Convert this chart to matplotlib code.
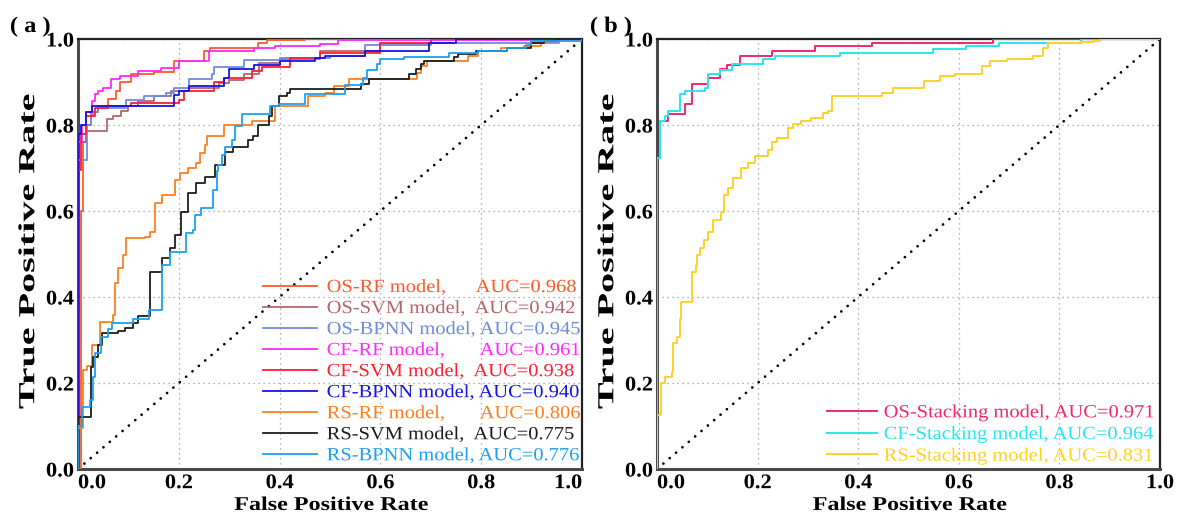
import matplotlib
matplotlib.use('Agg')
import matplotlib.pyplot as plt
from matplotlib.patheffects import AbstractPathEffect
from matplotlib.transforms import Affine2D

plt.rcParams['font.family'] = ['Liberation Serif', 'DejaVu Serif']

# ---------------- data (FPR where TPR jumps, TPR after jump) ----------------
os_rf_fpr = [0, 0.006, 0.01, 0.015, 0.025, 0.04, 0.06, 0.075, 0.083, 0.106, 0.15, 0.19, 0.25, 0.262, 0.357, 0.375, 0.45, 1]
os_rf_tpr = [0, 0.6, 0.76, 0.8, 0.83, 0.845, 0.86, 0.88, 0.9, 0.918, 0.923, 0.949, 0.972, 0.979, 0.99, 0.997, 1.0, 1.0]

os_svm_fpr = [0, 0, 0.015, 0.057, 0.07, 0.086, 0.1, 0.12, 0.15, 0.185, 0.22, 0.28, 0.3, 0.33, 0.36, 0.4, 0.48, 0.6, 0.7, 1]
os_svm_tpr = [0, 0.76, 0.785, 0.815, 0.82, 0.833, 0.845, 0.856, 0.868, 0.879, 0.885, 0.898, 0.905, 0.918, 0.945, 0.953, 0.972, 0.988, 1.0, 1.0]

os_bpnn_fpr = [0, 0, 0.017, 0.025, 0.03, 0.04, 0.096, 0.13, 0.175, 0.19, 0.22, 0.265, 0.27, 0.33, 0.4, 0.5, 0.57, 0.7, 0.955, 1]
os_bpnn_tpr = [0, 0.718, 0.8, 0.82, 0.83, 0.84, 0.859, 0.868, 0.875, 0.887, 0.906, 0.918, 0.936, 0.952, 0.956, 0.96, 0.985, 0.99, 1.0, 1.0]

cf_rf_fpr = [0, 0, 0.008, 0.015, 0.027, 0.033, 0.04, 0.05, 0.066, 0.083, 0.12, 0.165, 0.2, 0.26, 0.35, 0.39, 0.48, 0.515, 1]
cf_rf_tpr = [0, 0.76, 0.8, 0.83, 0.856, 0.871, 0.88, 0.887, 0.906, 0.913, 0.925, 0.933, 0.949, 0.972, 0.98, 0.984, 0.988, 0.997, 1.0]

cf_svm_fpr = [0, 0, 0.005, 0.015, 0.033, 0.06, 0.106, 0.2, 0.21, 0.27, 0.29, 0.345, 0.365, 0.42, 0.48, 0.6, 0.7, 1]
cf_svm_tpr = [0, 0.695, 0.78, 0.82, 0.84, 0.845, 0.852, 0.858, 0.88, 0.9, 0.91, 0.925, 0.935, 0.955, 0.968, 0.99, 1.0, 1.0]

cf_bpnn_fpr = [0, 0, 0.005, 0.015, 0.027, 0.19, 0.2, 0.22, 0.29, 0.3, 0.35, 0.4, 0.47, 0.49, 0.57, 0.696, 0.75, 1]
cf_bpnn_tpr = [0, 0.78, 0.8, 0.83, 0.845, 0.87, 0.88, 0.89, 0.91, 0.93, 0.94, 0.948, 0.955, 0.96, 0.972, 0.99, 1.0, 1.0]

rs_rf_fpr = [0, 0, 0.01, 0.017, 0.027, 0.043, 0.07, 0.073, 0.08, 0.089, 0.096, 0.133, 0.142, 0.152, 0.166,
             0.192, 0.202, 0.219, 0.235, 0.242, 0.252, 0.255, 0.29, 0.345, 0.39, 0.457, 0.49, 0.508, 0.537,
             0.673, 0.68, 0.693, 0.773, 0.793, 0.84, 0.885, 0.918, 0.93, 0.95, 1]
rs_rf_tpr = [0, 0.095, 0.23, 0.24, 0.289, 0.343, 0.358, 0.432, 0.467, 0.497, 0.537, 0.54, 0.552, 0.618, 0.637,
             0.672, 0.688, 0.699, 0.711, 0.734, 0.753, 0.775, 0.8, 0.81, 0.845, 0.867, 0.875, 0.89, 0.908,
             0.922, 0.937, 0.949, 0.96, 0.972, 0.978, 0.984, 0.99, 0.995, 1.0, 1.0]

rs_svm_fpr = [0, 0, 0.025, 0.03, 0.04, 0.047, 0.08, 0.094, 0.11, 0.12, 0.142, 0.166, 0.182, 0.192, 0.205,
              0.219, 0.235, 0.252, 0.272, 0.292, 0.308, 0.338, 0.348, 0.358, 0.378, 0.384, 0.398, 0.414,
              0.42, 0.561, 0.577, 0.657, 0.67, 0.68, 0.687, 0.746, 0.753, 0.79, 0.852, 0.898, 0.925, 0.95, 1]
rs_svm_tpr = [0, 0.12, 0.238, 0.261, 0.288, 0.316, 0.32, 0.328, 0.34, 0.355, 0.459, 0.49, 0.513, 0.544, 0.598,
              0.641, 0.664, 0.68, 0.707, 0.738, 0.75, 0.765, 0.775, 0.8, 0.82, 0.844, 0.868, 0.875,
              0.884, 0.895, 0.906, 0.918, 0.93, 0.941, 0.949, 0.957, 0.964, 0.972, 0.98, 0.991, 0.995, 1.0, 1.0]

rs_bpnn_fpr = [0, 0, 0.008, 0.024, 0.03, 0.034, 0.046, 0.059, 0.067, 0.11, 0.14, 0.166, 0.182, 0.215, 0.229,
               0.232, 0.245, 0.268, 0.275, 0.278, 0.285, 0.292, 0.305, 0.311, 0.325, 0.381, 0.398, 0.45,
               0.53, 0.566, 0.574, 0.593, 0.6, 0.647, 0.736, 0.793, 0.852, 0.888, 0.898, 1]
rs_bpnn_tpr = [0, 0.1, 0.145, 0.16, 0.215, 0.27, 0.308, 0.325, 0.34, 0.35, 0.37, 0.475, 0.505, 0.548, 0.556,
               0.591, 0.606, 0.649, 0.692, 0.707, 0.73, 0.75, 0.765, 0.797, 0.825, 0.844, 0.85, 0.871,
               0.892, 0.909, 0.929, 0.941, 0.953, 0.959, 0.968, 0.972, 0.98, 0.986, 0.995, 1.0]

os_st_fpr = [0, 0, 0.006, 0.0225, 0.0557, 0.07, 0.102, 0.125, 0.14, 0.165, 0.228, 0.314, 0.427, 0.668, 1]
os_st_tpr = [0, 0.723, 0.809, 0.825, 0.848, 0.895, 0.91, 0.93, 0.94, 0.96, 0.972, 0.984, 0.991, 1.0, 1.0]

cf_st_fpr = [0, 0, 0.006, 0.015, 0.0225, 0.0457, 0.0557, 0.0954, 0.102, 0.125, 0.149, 0.21, 0.235, 0.364, 0.549, 0.615, 0.68, 0.843, 1]
cf_st_tpr = [0, 0.723, 0.809, 0.82, 0.832, 0.871, 0.879, 0.887, 0.918, 0.929, 0.943, 0.954, 0.96, 0.968, 0.976, 0.984, 0.99, 1.0, 1.0]

rs_st_fpr = [0, 0, 0.006, 0.008, 0.016, 0.03, 0.032, 0.039, 0.046, 0.048, 0.069, 0.07, 0.077, 0.079, 0.085,
             0.094, 0.102, 0.112, 0.127, 0.134, 0.142, 0.152, 0.167, 0.18, 0.195, 0.221, 0.228, 0.238, 0.261,
             0.271, 0.287, 0.307, 0.331, 0.339, 0.347, 0.447, 0.47, 0.53, 0.563, 0.592, 0.647, 0.662, 0.695,
             0.748, 0.768, 0.778, 0.84, 0.866, 0.88, 1]
rs_st_tpr = [0, 0.126, 0.129, 0.2, 0.213, 0.226, 0.292, 0.308, 0.35, 0.389, 0.401, 0.459, 0.475, 0.498, 0.513,
             0.532, 0.552, 0.579, 0.598, 0.637, 0.653, 0.676, 0.699, 0.711, 0.728, 0.742, 0.761, 0.77, 0.794,
             0.802, 0.809, 0.817, 0.829, 0.833, 0.867, 0.875, 0.887, 0.902, 0.914, 0.918, 0.937, 0.949, 0.953,
             0.96, 0.98, 0.991, 0.993, 0.995, 1.0, 1.0]

labels_a = ['OS-RF model,      AUC=0.968', 'OS-SVM model,  AUC=0.942', 'OS-BPNN model, AUC=0.945',
            'CF-RF model,       AUC=0.961', 'CF-SVM model,  AUC=0.938', 'CF-BPNN model, AUC=0.940',
            'RS-RF model,       AUC=0.806', 'RS-SVM model,  AUC=0.775', 'RS-BPNN model, AUC=0.776']
labels_b = ['OS-Stacking model, AUC=0.971', 'CF-Stacking model, AUC=0.964', 'RS-Stacking model, AUC=0.831']
ticks = [0.0, 0.2, 0.4, 0.6, 0.8, 1.0]
tick_labels = ['0.0', '0.2', '0.4', '0.6', '0.8', '1.0']

colors_a = ['#FF5A28', '#B4646E', '#6E8CDC', '#FF28FF', '#FF1E32', '#1414E6', '#FF7F1E', '#1E1E1E', '#1EA0F0']
colors_b = ['#F0286E', '#28E6F0', '#FFD228']

curves_a = [(os_rf_fpr, os_rf_tpr), (os_svm_fpr, os_svm_tpr), (os_bpnn_fpr, os_bpnn_tpr),
            (cf_rf_fpr, cf_rf_tpr), (cf_svm_fpr, cf_svm_tpr), (cf_bpnn_fpr, cf_bpnn_tpr),
            (rs_rf_fpr, rs_rf_tpr), (rs_svm_fpr, rs_svm_tpr), (rs_bpnn_fpr, rs_bpnn_tpr)]
curves_b = [(os_st_fpr, os_st_tpr), (cf_st_fpr, cf_st_tpr), (rs_st_fpr, rs_st_tpr)]


class HStretch(AbstractPathEffect):
    """Stretch text glyphs along the baseline direction."""
    def __init__(self, sx=1.1, anchor='center'):
        super().__init__()
        self.sx = sx
        self.anchor = anchor

    def draw_path(self, renderer, gc, tpath, affine, rgbFace=None):
        ext = tpath.get_extents()
        if self.anchor == 'left':
            cx = ext.x0
        elif self.anchor == 'right':
            cx = ext.x1
        else:
            cx = 0.5 * (ext.x0 + ext.x1)
        t = Affine2D().translate(-cx, 0).scale(self.sx, 1).translate(cx, 0) + affine
        renderer.draw_path(gc, tpath, t, rgbFace)


W, H = 1182, 521
fig = plt.figure(figsize=(W / 100, H / 100), dpi=100)
ax1 = fig.add_axes([78 / W, 1 - 469 / H, 504 / W, 430 / H])
ax2 = fig.add_axes([657 / W, 1 - 469 / H, 503 / W, 430 / H])


def style_axes(ax, first_ha, last_ha):
    ax.set_xlim(0, 1)
    ax.set_ylim(0, 1)
    ax.set_axisbelow(True)
    ax.grid(True, linestyle=(0, (1, 3)), color='#9a9a9a', lw=0.9)
    ax.plot([0, 1], [0, 1], color='black', lw=2.0, linestyle=(0, (0.01, 3.0)),
            dash_capstyle='round', zorder=1.5)
    ax.set_xticks(ticks, tick_labels)
    ax.set_yticks(ticks, tick_labels)
    ax.tick_params(length=0, labelsize=15, pad=3)
    for lbl in ax.get_xticklabels() + ax.get_yticklabels():
        lbl.set_fontweight('bold')
    xl = ax.get_xticklabels()
    xl[0].set_ha(first_ha)
    xl[-1].set_ha(last_ha)
    for lbl in xl:
        lbl.set_path_effects([HStretch(1.08, lbl.get_ha())])
    for lbl in ax.get_yticklabels():
        lbl.set_path_effects([HStretch(1.08, 'right')])
    for s in ['left', 'bottom']:
        ax.spines[s].set_linewidth(2.2)
        ax.spines[s].set_color('#4a4a4a')
    for s in ['top', 'right']:
        ax.spines[s].set_linewidth(1.6)
        ax.spines[s].set_color('#222222')
    ax.set_xlabel('False Positive Rate', fontsize=14, fontweight='bold',
                  path_effects=[HStretch(1.24, 'center')])
    ax.xaxis.set_label_coords(0.503, -0.065)
    ax.set_ylabel('True Positive Rate', fontsize=16.5, fontweight='bold',
                  path_effects=[HStretch(1.75, 'center')])
    ax.yaxis.set_label_coords(-0.077, 0.505)


style_axes(ax1, 'left', 'right')
style_axes(ax2, 'left', 'center')

handles_a = []
for (fx, ty), c in zip(curves_a, colors_a):
    h, = ax1.plot(fx, ty, drawstyle='steps-post', color=c, lw=1.3, zorder=3)
    handles_a.append(h)
handles_b = []
for (fx, ty), c in zip(curves_b, colors_b):
    h, = ax2.plot(fx, ty, drawstyle='steps-post', color=c, lw=1.4, zorder=3)
    handles_b.append(h)

leg_a = ax1.legend(handles_a, labels_a, loc='lower left', bbox_to_anchor=(0.368, 0.011),
                   frameon=False, fontsize=13.4, handlelength=2.9, handletextpad=0.5,
                   labelspacing=0.215, borderpad=0, borderaxespad=0)
for t, c in zip(leg_a.get_texts(), colors_a):
    t.set_color(c)
    t.set_path_effects([HStretch(1.1, 'left')])

leg_b = ax2.legend(handles_b, labels_b, loc='lower left', bbox_to_anchor=(0.338, 0.01),
                   frameon=False, fontsize=13.4, handlelength=2.7, handletextpad=0.35,
                   labelspacing=0.25, borderpad=0, borderaxespad=0)
for t, c in zip(leg_b.get_texts(), colors_b):
    t.set_color(c)
    t.set_path_effects([HStretch(1.1, 'left')])

fig.text(10 / W, 1 - 27 / H, '( a )', fontsize=16, fontweight='bold', ha='left', va='center',
         path_effects=[HStretch(1.1, 'left')])
fig.text(590 / W, 1 - 27 / H, '( b )', fontsize=16, fontweight='bold', ha='left', va='center',
         path_effects=[HStretch(1.1, 'left')])

fig.savefig('out.png', dpi=100)
